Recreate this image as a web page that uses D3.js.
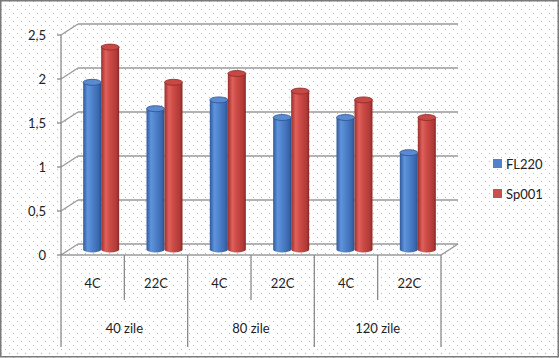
<!DOCTYPE html>
<html><head><meta charset="utf-8">
<script src="https://cdn.jsdelivr.net/npm/d3@7"></script>
<style>html,body{margin:0;padding:0;background:#fff}svg{display:block}</style>
</head><body>
<svg id="c" width="560" height="358"></svg>
<script>
const groups = ["40 zile", "80 zile", "120 zile"];
const temps = ["4C", "22C"];
const categories = ["40 zile|4C", "40 zile|22C", "80 zile|4C", "80 zile|22C", "120 zile|4C", "120 zile|22C"];
const seriesNames = ["FL220", "Sp001"];
const fl220 = [1.9, 1.6, 1.7, 1.5, 1.5, 1.1];
const sp001 = [2.3, 1.9, 2.0, 1.8, 1.7, 1.5];
const yTicks = [0, 0.5, 1, 1.5, 2, 2.5];
const yTickLabels = ["0", "0,5", "1", "1,5", "2", "2,5"];

(function () {
const svg = d3.select("#c");
const W = 560, H = 358;
const FONT = "Lato, 'Open Sans', sans-serif";

// layout
const pLeft = 61, pRight = 441, pTop = 35, pBottom = 255;
const depth = {dx: 17, dy: -11};
const mid = {dx: 8.5, dy: -5.5};
const tableBottom = 347;

const defs = svg.append("defs");
const pat = defs.append("pattern").attr("id", "dots").attr("patternUnits", "userSpaceOnUse")
  .attr("width", 8).attr("height", 8);
pat.append("rect").attr("x", 1).attr("y", 1).attr("width", 1).attr("height", 1).attr("fill", "#b8b8b8");
pat.append("rect").attr("x", 5).attr("y", 5).attr("width", 1).attr("height", 1).attr("fill", "#b8b8b8");

function grad(id, stops) {
  const g = defs.append("linearGradient").attr("id", id).attr("x1", "0").attr("x2", "1").attr("y1", "0").attr("y2", "0");
  stops.forEach(s => g.append("stop").attr("offset", s[0]).attr("stop-color", s[1]));
}
grad("gBlue", [[0, "#2f5a9c"], [0.25, "#5f94dc"], [0.5, "#4f82cc"], [0.85, "#3a68ae"], [1, "#2a508a"]]);
grad("gRed", [[0, "#9a2f2c"], [0.25, "#e0605c"], [0.5, "#cc4a46"], [0.85, "#b03a37"], [1, "#8a2826"]]);

svg.append("rect").attr("width", W).attr("height", H).attr("fill", "#fff");
svg.append("rect").attr("width", W).attr("height", H).attr("fill", "url(#dots)");

const x = d3.scaleBand().domain(categories).range([pLeft, pRight]).padding(0);
const xg = d3.scaleBand().domain(groups).range([pLeft, pRight]).padding(0);
const y = d3.scaleLinear().domain([0, 2.5]).range([pBottom, pTop]);
const xs = d3.scaleBand().domain(seriesNames)
  .range([x.bandwidth() / 2 - 18, x.bandwidth() / 2 + 18]).padding(0);

const gridColor = "#9a9a9a";
const grid = svg.append("g").attr("fill", "none").attr("stroke", gridColor).attr("stroke-width", 1.4);
yTicks.forEach(t => {
  const yy = y(t);
  grid.append("line").attr("x1", pLeft + depth.dx).attr("x2", pRight + depth.dx)
    .attr("y1", yy + depth.dy).attr("y2", yy + depth.dy);
  grid.append("line").attr("x1", pLeft).attr("x2", pLeft + depth.dx)
    .attr("y1", yy).attr("y2", yy + depth.dy);
});
grid.append("path").attr("d",
  `M${pLeft},${pBottom}L${pRight},${pBottom}L${pRight + depth.dx},${pBottom + depth.dy}`);

const axisG = svg.append("g").attr("stroke", "#8a8a8a").attr("stroke-width", 1.3);
axisG.append("line").attr("x1", pLeft).attr("x2", pLeft).attr("y1", y(2.5)).attr("y2", tableBottom);
yTicks.forEach(t => {
  axisG.append("line").attr("x1", pLeft - 4).attr("x2", pLeft).attr("y1", y(t)).attr("y2", y(t));
});
svg.append("g").selectAll("text").data(yTicks).join("text")
  .attr("x", 46).attr("y", d => y(d)).attr("dy", "0.36em")
  .attr("text-anchor", "end").attr("font-family", FONT).attr("font-size", 13).attr("fill", "#222")
  .text((d, i) => yTickLabels[i]);

categories.forEach((c, i) => {
  const xr = x(c) + x.bandwidth();
  const isGroupEnd = (i % 2 === 1);
  axisG.append("line").attr("x1", xr).attr("x2", xr).attr("y1", pBottom)
    .attr("y2", isGroupEnd ? tableBottom : 300);
});

svg.append("g").selectAll("text").data(categories).join("text")
  .attr("x", d => x(d) + x.bandwidth() / 2).attr("y", 283).attr("dy", "0.36em")
  .attr("text-anchor", "middle").attr("font-family", FONT).attr("font-size", 13).attr("fill", "#222")
  .text(d => d.split("|")[1]);
svg.append("g").selectAll("text").data(groups).join("text")
  .attr("x", d => xg(d) + xg.bandwidth() / 2).attr("y", 328).attr("dy", "0.36em")
  .attr("text-anchor", "middle").attr("font-family", FONT).attr("font-size", 13).attr("fill", "#222")
  .text(d => d);

const seriesData = [
  {name: "FL220", values: fl220, grad: "url(#gBlue)", topFill: "#5a8ad0", stroke: "#2d5290"},
  {name: "Sp001", values: sp001, grad: "url(#gRed)", topFill: "#c84844", stroke: "#8a2a28"}
];
const bars = svg.append("g");
categories.forEach((c, i) => {
  seriesData.forEach(s => {
    const w = xs.bandwidth();
    const x0 = x(c) + xs(s.name) + mid.dx;
    const yb = y(0) + mid.dy;
    const yt = y(s.values[i]) + mid.dy;
    const rx = w / 2, ry = 3;
    bars.append("path")
      .attr("d", `M${x0},${yt}L${x0},${yb}A${rx},${ry} 0 0 0 ${x0 + w},${yb}L${x0 + w},${yt}Z`)
      .attr("fill", s.grad);
    bars.append("ellipse").attr("cx", x0 + rx).attr("cy", yt).attr("rx", rx).attr("ry", ry)
      .attr("fill", s.topFill).attr("stroke", s.stroke).attr("stroke-width", 0.8);
  });
});

const lg = svg.append("g");
seriesData.forEach((s, i) => {
  const ly = 159 + i * 30;
  lg.append("rect").attr("x", 493).attr("y", ly).attr("width", 9).attr("height", 9)
    .attr("fill", i === 0 ? "#4f81cd" : "#c8504c");
  lg.append("text").attr("x", 506).attr("y", ly + 9.5).attr("font-family", FONT).attr("font-size", 13)
    .attr("fill", "#222").text(s.name);
});

svg.append("rect").attr("x", 0.75).attr("y", 0.75).attr("width", W - 2.5).attr("height", H - 2)
  .attr("fill", "none").attr("stroke", "#7a7a7a").attr("stroke-width", 1.5);
})();
</script>
</body></html>
